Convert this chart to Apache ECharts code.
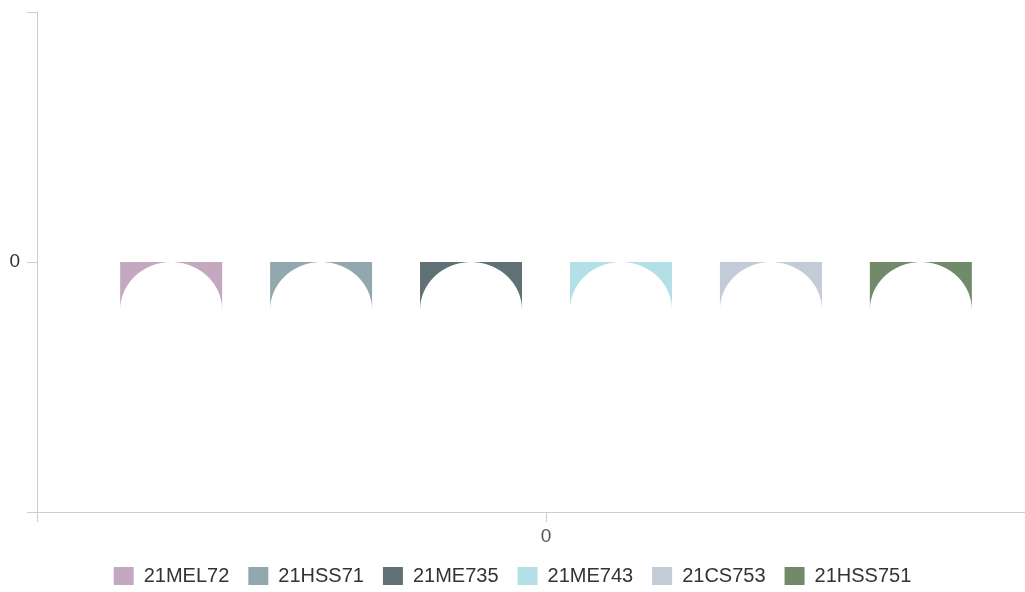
<!DOCTYPE html>
<html>
<head>
<meta charset="utf-8">
<script src="https://cdn.jsdelivr.net/npm/echarts@6/dist/echarts.min.js"></script>
<style>
  html, body { margin: 0; padding: 0; background: #fff; }
  #chart { width: 1025px; height: 592px; }
</style>
</head>
<body>
<div id="chart"></div>
<script>
// series names, colours and values (all values are 0)
const seriesNames = ['21MEL72', '21HSS71', '21ME735', '21ME743', '21CS753', '21HSS751'];
const seriesColors = ['#c3a8bf', '#93a8ae', '#5f7174', '#b3dfe6', '#c3cbd7', '#718a6a'];
const seriesValues = [0, 0, 0, 0, 0, 0];
const xPosition = 0;   // the single x value ("0")

// odd shape of the marks: a block with a half circle cut out
const markShape = 'path://M0,0L49,0A51,51 0 0 0 0,51Z M53,0L102,0L102,51A51,51 0 0 0 53,0Z';

const chart = echarts.init(document.getElementById('chart'));

// only the 0 tick gets a label
const zeroOnly = v => (v === 0 ? '0' : '');

const option = {
  animation: false,
  textStyle: { fontFamily: 'Liberation Sans, Arial, sans-serif' },
  grid: { left: 37, top: 12, height: 500, width: 1018, outerBoundsMode: 'none' },
  legend: {
    bottom: 1,
    left: 'center',
    icon: 'rect',
    itemWidth: 20,
    itemHeight: 18,
    itemGap: 19,
    textStyle: { fontSize: 20, color: '#333', padding: [0, 0, 0, 5] },
    data: seriesNames
  },
  xAxis: {
    type: 'value',
    min: -1,
    max: 1,
    interval: 1,
    axisLine: { show: true, onZero: false, lineStyle: { color: '#ccc' } },
    axisTick: { show: true, length: 10, lineStyle: { color: '#ccc' } },
    axisLabel: { formatter: zeroOnly, fontSize: 19, color: '#555', margin: 15 },
    splitLine: { show: false }
  },
  yAxis: {
    type: 'value',
    min: -1,
    max: 1,
    interval: 1,
    axisLine: { show: true, onZero: false, lineStyle: { color: '#ccc' } },
    axisTick: { show: true, length: 10, lineStyle: { color: '#ccc' } },
    axisLabel: { formatter: zeroOnly, fontSize: 19, color: '#333', margin: 17 },
    splitLine: { show: false }
  },
  series: seriesNames.map((name, i) => ({
    name: name,
    type: 'pictorialBar',
    barWidth: 102,
    barGap: '47%',
    symbol: markShape,
    symbolSize: [102, 48],
    symbolPosition: 'center',
    symbolOffset: [0, '50%'],
    itemStyle: { color: seriesColors[i] },
    data: [[xPosition, seriesValues[i]]]
  }))
};

chart.setOption(option);
</script>
</body>
</html>
